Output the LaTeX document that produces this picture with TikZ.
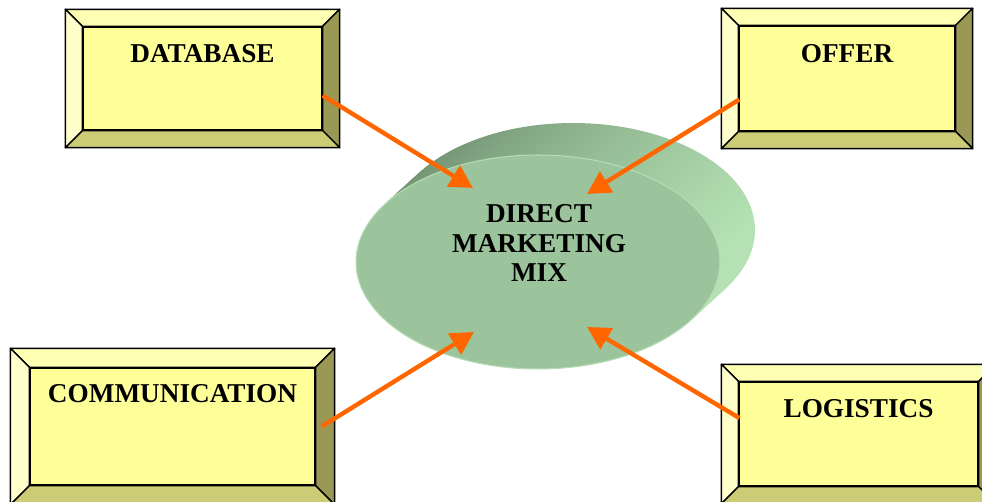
\documentclass[tikz,border=0pt]{standalone}
\usepackage{fontspec}
\setmainfont{Liberation Serif}
\usetikzlibrary{calc,arrows.meta,shapes.geometric}

\definecolor{faceyellow}{RGB}{255,255,153}
\definecolor{bvtop}{RGB}{255,255,179}
\definecolor{bvleft}{RGB}{255,255,204}
\definecolor{bvright}{RGB}{153,153,85}
\definecolor{bvbottom}{RGB}{204,204,119}
\definecolor{mixface}{RGB}{156,196,156}
\definecolor{mixedge}{RGB}{182,220,182}
\definecolor{mixdark}{RGB}{118,150,118}
\definecolor{mixlight}{RGB}{180,226,180}
\definecolor{feedorange}{RGB}{255,102,0}

\tikzset{
  face/.style = {rectangle, draw, fill=faceyellow, line width=0.8pt, inner sep=0pt},
  title/.style = {font=\fontsize{15.5}{17}\selectfont\bfseries, inner sep=0pt, align=center},
  bevelside/.style = {draw, line width=0.8pt, line join=round},
  feed/.style = {draw=feedorange, line width=2.5pt, -{Triangle[length=0.46cm,width=0.48cm]}},
}

% four bevel strips around a face node: #1 node name, #2 strip width
\newcommand\bevel[2]{%
  \coordinate (#1-onw) at ($(#1.north west)+(-#2,-#2)$);
  \coordinate (#1-one) at ($(#1.north east)+(#2,-#2)$);
  \coordinate (#1-ose) at ($(#1.south east)+(#2,#2)$);
  \coordinate (#1-osw) at ($(#1.south west)+(-#2,#2)$);
  \filldraw[bevelside, fill=bvtop] (#1-onw) -- (#1-one) -- (#1.north east) -- (#1.north west) -- cycle;
  \filldraw[bevelside, fill=bvleft] (#1-onw) -- (#1.north west) -- (#1.south west) -- (#1-osw) -- cycle;
  \filldraw[bevelside, fill=bvright] (#1-one) -- (#1-ose) -- (#1.south east) -- (#1.north east) -- cycle;
  \filldraw[bevelside, fill=bvbottom] (#1-osw) -- (#1.south west) -- (#1.south east) -- (#1-ose) -- cycle;
}

\begin{document}
\begin{tikzpicture}[x=0.02cm, y=-0.02cm]
  \useasboundingbox (0,0) rectangle (982,502);

  % the four boxes
  \node[face, minimum width=4.78cm, minimum height=2.06cm] (db)   at (202.5,78.5) {};
  \node[face, minimum width=4.32cm, minimum height=2.10cm] (offer) at (847,78.5) {};
  \node[face, minimum width=5.70cm, minimum height=2.34cm] (comm) at (172.5,426.5) {};
  \node[face, minimum width=4.78cm, minimum height=2.08cm] (logi) at (858.5,434) {};
  \bevel{db}{17}
  \bevel{offer}{17}
  \bevel{comm}{19}
  \bevel{logi}{17}

  \node[title] (dbt)    at ($(db.north)+(0,27)$)    {DATABASE};
  \node[title] (offert) at ($(offer.north)+(0,28)$) {OFFER};
  \node[title] (commt)  at ($(comm.north)+(0,26)$)  {COMMUNICATION};
  \node[title] (logit)  at ($(logi.north)+(0,27)$)  {LOGISTICS};

  % the disc: side first, then the face
  \foreach \k in {0,...,24}
    \shade[top color=mixdark, bottom color=mixlight, shading angle=63]
      ($(573,230)!\k/24!(538,262)$) ellipse [x radius=3.64cm, y radius=2.14cm];
  \node[ellipse, fill=mixface, draw=mixedge, line width=0.6pt, inner sep=0pt,
        minimum width=7.28cm, minimum height=4.28cm] (mix) at (538,262) {};
  \node[title] (mixt) at ($(mix.center)+(1,-19)$) {DIRECT\\MARKETING\\MIX};

  % arrows into the disc
  \coordinate (dbtip)    at ($(mix.center)+(-65,-74)$);
  \coordinate (offertip) at ($(mix.center)+(49,-68)$);
  \coordinate (commtip)  at ($(mix.center)+(-64,70)$);
  \coordinate (logitip)  at ($(mix.center)+(49,65)$);
  \draw[feed] ($(db.east)+(0,17)$) -- (dbtip);
  \draw[feed] ($(offer.west)+(1,21)$) -- (offertip);
  \draw[feed] ($(comm.east)+(6,0)$) -- (commtip);
  \draw[feed] ($(logi.west)+(1,-16)$) -- (logitip);
\end{tikzpicture}
\end{document}
